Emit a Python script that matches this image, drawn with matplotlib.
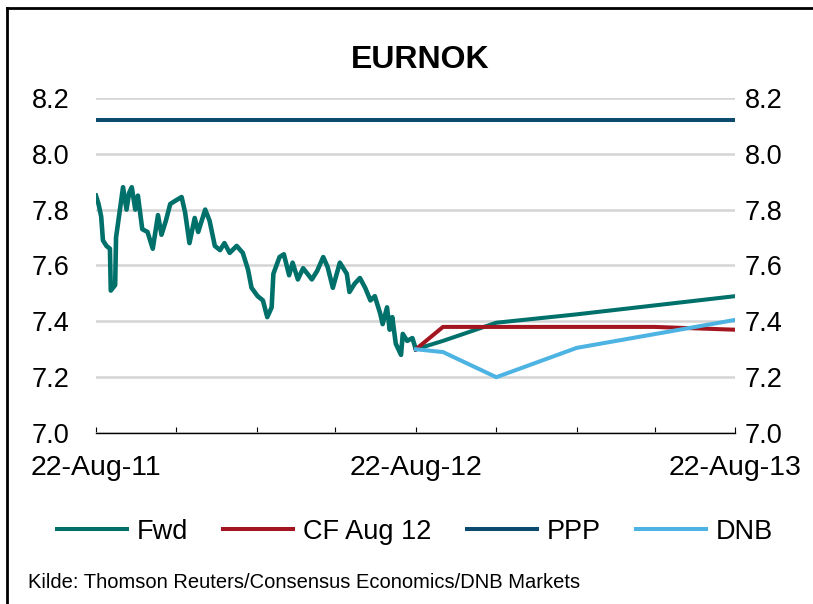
import numpy as np
import pandas as pd
import matplotlib
matplotlib.use("Agg")
import matplotlib.pyplot as plt
from matplotlib.lines import Line2D

plt.rcParams['font.family'] = ['Liberation Sans', 'DejaVu Sans']

# EURNOK history
hist_dates = ['2011-08-22', '2011-08-25', '2011-08-28', '2011-08-30', '2011-09-03', '2011-09-07',
              '2011-09-08', '2011-09-13', '2011-09-14', '2011-09-18', '2011-09-22', '2011-09-26',
              '2011-09-29', '2011-10-02', '2011-10-06', '2011-10-09', '2011-10-14', '2011-10-20',
              '2011-10-26', '2011-11-01', '2011-11-05', '2011-11-10', '2011-11-15', '2011-11-20',
              '2011-11-28', '2011-12-02', '2011-12-07', '2011-12-13', '2011-12-17', '2011-12-25',
              '2011-12-30', '2012-01-05', '2012-01-11', '2012-01-16', '2012-01-22', '2012-01-30',
              '2012-02-06', '2012-02-12', '2012-02-16', '2012-02-23', '2012-02-29', '2012-03-05',
              '2012-03-10', '2012-03-12', '2012-03-19', '2012-03-24', '2012-03-30', '2012-04-03',
              '2012-04-09', '2012-04-15', '2012-04-25', '2012-05-01', '2012-05-08', '2012-05-13',
              '2012-05-19', '2012-05-27', '2012-06-04', '2012-06-07', '2012-06-13', '2012-06-19',
              '2012-06-25', '2012-07-01', '2012-07-06', '2012-07-12', '2012-07-15', '2012-07-20',
              '2012-07-23', '2012-07-26', '2012-07-30', '2012-08-05', '2012-08-07', '2012-08-12',
              '2012-08-18', '2012-08-22']
hist_vals = [7.85, 7.82, 7.775, 7.69, 7.67, 7.66,
             7.51, 7.53, 7.70, 7.79, 7.88, 7.80,
             7.86, 7.88, 7.80, 7.85, 7.73, 7.72,
             7.66, 7.78, 7.71, 7.76, 7.82, 7.83,
             7.845, 7.79, 7.68, 7.77, 7.72, 7.80,
             7.76, 7.67, 7.655, 7.68, 7.645, 7.67,
             7.645, 7.585, 7.52, 7.49, 7.475, 7.415,
             7.45, 7.57, 7.63, 7.64, 7.565, 7.61,
             7.55, 7.59, 7.55, 7.58, 7.63, 7.595,
             7.52, 7.61, 7.57, 7.505, 7.535, 7.555,
             7.52, 7.475, 7.49, 7.43, 7.39, 7.45,
             7.37, 7.415, 7.32, 7.28, 7.355, 7.33,
             7.34, 7.30]

# forecasts
fwd_dates = ['2012-08-22', '2012-09-22', '2012-11-22', '2013-02-22', '2013-08-22']
fwd_vals = [7.30, 7.33, 7.395, 7.425, 7.49]

cf_dates = ['2012-08-22', '2012-09-22', '2013-05-22', '2013-08-22']
cf_vals = [7.30, 7.38, 7.38, 7.37]

dnb_dates = ['2012-08-22', '2012-09-22', '2012-11-22', '2013-02-22', '2013-08-22']
dnb_vals = [7.30, 7.29, 7.20, 7.305, 7.405]

ppp_dates = ['2011-08-22', '2013-08-22']
ppp_vals = [8.12, 8.12]

c_fwd = '#00706b'
c_cf = '#a3151f'
c_ppp = '#0c4a6e'
c_dnb = '#4db3e2'

fig = plt.figure(figsize=(8.13, 6.04), dpi=100)
ax = fig.add_axes([0.118, 0.283, 0.786, 0.555])

lw = 2.9
ax.plot(pd.to_datetime(ppp_dates), ppp_vals, color=c_ppp, lw=lw, solid_capstyle='butt')
ax.plot(pd.to_datetime(hist_dates), hist_vals, color=c_fwd, lw=3.3)
ax.plot(pd.to_datetime(fwd_dates), fwd_vals, color=c_fwd, lw=lw)
ax.plot(pd.to_datetime(cf_dates), cf_vals, color=c_cf, lw=lw)
ax.plot(pd.to_datetime(dnb_dates), dnb_vals, color=c_dnb, lw=lw)

ax.set_ylim(7.0, 8.2)
ax.set_yticks(np.arange(7.0, 8.21, 0.2))
ax.yaxis.set_major_formatter(plt.FuncFormatter(lambda v, p: '%.1f' % v))
ax.set_xlim(pd.Timestamp('2011-08-22'), pd.Timestamp('2013-08-22'))
ticks = pd.date_range('2011-08-22', '2013-08-22', freq=pd.DateOffset(months=3))
ax.set_xticks(ticks)
ax.set_xticklabels([t.strftime('%d-%b-%y') if t.month == 8 else '' for t in ticks])
ax.grid(axis='y', color='#d4d4d4', lw=1.8)
ax.set_axisbelow(True)
for s in ['top', 'left', 'right']:
    ax.spines[s].set_visible(False)
ax.spines['bottom'].set_color('black')
ax.spines['bottom'].set_linewidth(1.0)
ax.tick_params(axis='x', direction='in', length=4, color='black', labelsize=20.5, pad=16)
ax.tick_params(axis='y', length=0, labelsize=19.5, pad=19)

ax2 = ax.twinx()
ax2.set_ylim(ax.get_ylim())
ax2.set_yticks(np.arange(7.0, 8.21, 0.2))
ax2.yaxis.set_major_formatter(plt.FuncFormatter(lambda v, p: '%.1f' % v))
ax2.tick_params(axis='y', length=0, labelsize=19.5, pad=7)
for s in ax2.spines.values():
    s.set_visible(False)

fig.text(0.517, 0.9, 'EURNOK', ha='center', va='center', fontsize=23, fontweight='bold')

handles = [Line2D([], [], color=c, lw=lw) for c in [c_fwd, c_cf, c_ppp, c_dnb]]
fig.legend(handles, ['Fwd', 'CF Aug 12', 'PPP', 'DNB'], loc='center', ncol=4,
           bbox_to_anchor=(0.51, 0.12), frameon=False, fontsize=19.5,
           handlelength=2.6, handletextpad=0.35, columnspacing=1.3)

fig.text(0.035, 0.035, 'Kilde: Thomson Reuters/Consensus Economics/DNB Markets',
         ha='left', va='center', fontsize=14.5)

# outer frame (left and top edges)
fig.add_artist(Line2D([0.009, 0.009], [0.0, 0.987], transform=fig.transFigure, color='black', lw=2))
fig.add_artist(Line2D([0.008, 1.0], [0.986, 0.986], transform=fig.transFigure, color='black', lw=2))

fig.savefig('out.png', dpi=100)
